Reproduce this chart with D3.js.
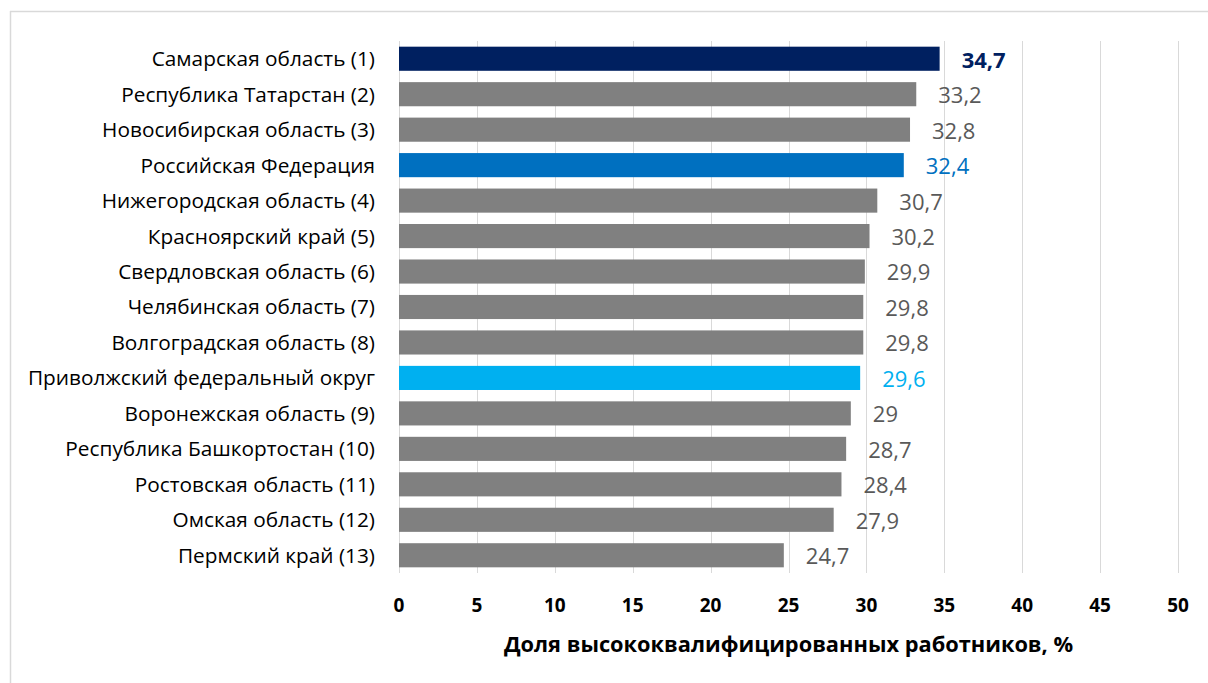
<!DOCTYPE html>
<html>
<head>
<meta charset="utf-8">
<script src="https://cdn.jsdelivr.net/npm/d3@7"></script>
<style>
body { margin: 0; background: #fff; }
svg { font-family: "Open Sans", sans-serif; }
.grid line { stroke: #d9d9d9; stroke-width: 1; }
.cat { font-size: 20.8px; fill: #000; }
.tick-label { font-size: 19px; font-weight: bold; fill: #000; }
.val { font-size: 22px; }
.axis-title { font-size: 21.8px; font-weight: bold; fill: #000; }
</style>
</head>
<body>
<svg width="1208" height="683"></svg>
<script>
var categories = [
    "Самарская область (1)",
    "Республика Татарстан (2)",
    "Новосибирская область (3)",
    "Российская Федерация",
    "Нижегородская область (4)",
    "Красноярский край (5)",
    "Свердловская область (6)",
    "Челябинская область (7)",
    "Волгоградская область (8)",
    "Приволжский федеральный округ",
    "Воронежская область (9)",
    "Республика Башкортостан (10)",
    "Ростовская область (11)",
    "Омская область (12)",
    "Пермский край (13)"
];
var values = [34.7, 33.2, 32.8, 32.4, 30.7, 30.2, 29.9, 29.8, 29.8, 29.6, 29, 28.7, 28.4, 27.9, 24.7];
var xTicks = [0, 5, 10, 15, 20, 25, 30, 35, 40, 45, 50];
var axisTitle = "Доля высококвалифицированных работников, %";

// highlighted rows: bar colour, label colour, bold
var special = {
    "Самарская область (1)": { bar: "#002060", text: "#002060", bold: true },
    "Российская Федерация": { bar: "#0070c0", text: "#0070c0", bold: false },
    "Приволжский федеральный округ": { bar: "#00b0f0", text: "#00b0f0", bold: false }
};

function fmt(v) {
    return String(v).replace(".", ",");
}

function main() {
    var svg = d3.select("svg");

    // chart frame (only top and left edges are visible)
    svg.append("line").attr("x1", 10).attr("x2", 1208).attr("y1", 11.5).attr("y2", 11.5)
        .attr("stroke", "#d9d9d9").attr("stroke-width", 1.5);
    svg.append("line").attr("x1", 10.5).attr("x2", 10.5).attr("y1", 11).attr("y2", 683)
        .attr("stroke", "#d9d9d9").attr("stroke-width", 1.5);

    var left = 399, right = 1178, top = 41, bottom = 573;

    var x = d3.scaleLinear().domain([0, 50]).range([left, right]);
    var y = d3.scaleBand().domain(categories).range([top, bottom])
        .paddingInner(0.32).paddingOuter(0.16);

    var grid = svg.append("g").attr("class", "grid");
    grid.selectAll("line").data(xTicks).enter().append("line")
        .attr("x1", function(d) { return Math.round(x(d)) + 0.5; })
        .attr("x2", function(d) { return Math.round(x(d)) + 0.5; })
        .attr("y1", top)
        .attr("y2", bottom);

    var data = categories.map(function(c, i) { return { cat: c, val: values[i] }; });

    svg.append("g").selectAll("rect").data(data).enter().append("rect")
        .attr("x", x(0))
        .attr("y", function(d) { return y(d.cat); })
        .attr("width", function(d) { return x(d.val) - x(0); })
        .attr("height", y.bandwidth())
        .attr("fill", function(d) { return special[d.cat] ? special[d.cat].bar : "#808080"; });

    svg.append("g").selectAll("text").data(data).enter().append("text")
        .attr("class", "cat")
        .attr("x", left - 24)
        .attr("y", function(d) { return y(d.cat) + y.bandwidth() / 2; })
        .attr("dy", "0.36em")
        .attr("text-anchor", "end")
        .text(function(d) { return d.cat; });

    svg.append("g").selectAll("text").data(data).enter().append("text")
        .attr("class", "val")
        .attr("x", function(d) { return x(d.val) + 22; })
        .attr("y", function(d) { return y(d.cat) + y.bandwidth() / 2 + 1; })
        .attr("dy", "0.36em")
        .style("fill", function(d) { return special[d.cat] ? special[d.cat].text : "#595959"; })
        .style("font-weight", function(d) { return special[d.cat] && special[d.cat].bold ? "bold" : "normal"; })
        .text(function(d) { return fmt(d.val); });

    svg.append("g").selectAll("text").data(xTicks).enter().append("text")
        .attr("class", "tick-label")
        .attr("x", function(d) { return x(d); })
        .attr("y", 612)
        .attr("text-anchor", "middle")
        .text(function(d) { return d; });

    svg.append("text")
        .attr("class", "axis-title")
        .attr("x", (left + right) / 2)
        .attr("y", 652)
        .attr("text-anchor", "middle")
        .text(axisTitle);
}

main();
</script>
</body>
</html>
